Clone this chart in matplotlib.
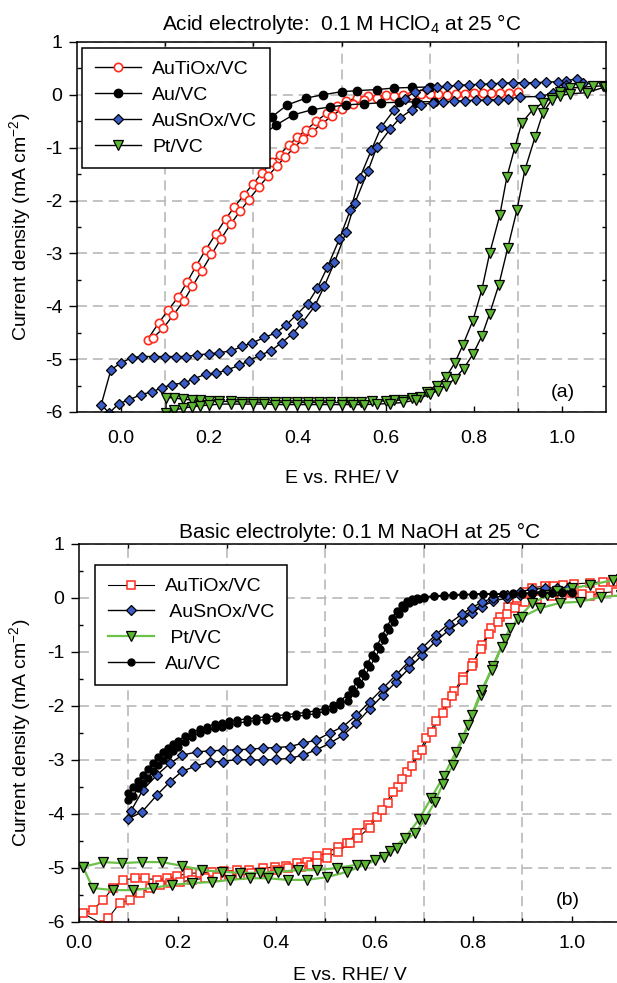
import matplotlib
matplotlib.use("Agg")
import matplotlib.pyplot as plt
from matplotlib.ticker import FixedLocator, MultipleLocator

plt.rcParams['font.family'] = ['Liberation Sans', 'DejaVu Sans']
plt.rcParams['mathtext.fontset'] = 'custom'
plt.rcParams['mathtext.rm'] = 'Liberation Sans'
plt.rcParams['mathtext.it'] = 'Liberation Sans:italic'
plt.rcParams['axes.unicode_minus'] = False

# ---------------- (a) acid, 0.1 M HClO4 ----------------
a_tio_x1 = [0.060, 0.085, 0.107, 0.130, 0.150, 0.170, 0.192, 0.215, 0.237, 0.257, 0.278, 0.300, 0.320, 0.343, 0.360,
            0.380, 0.400, 0.420, 0.443, 0.466, 0.490, 0.510, 0.535, 0.560, 0.600, 0.640, 0.680, 0.720, 0.760, 0.800,
            0.840, 0.880]
a_tio_y1 = [-4.63, -4.32, -4.07, -3.82, -3.54, -3.24, -2.93, -2.63, -2.35, -2.12, -1.90, -1.68, -1.47, -1.27, -1.13,
            -0.95, -0.80, -0.66, -0.50, -0.35, -0.21, -0.12, -0.06, -0.03, -0.01, 0.00, 0.01, 0.02, 0.02, 0.03,
            0.03, 0.04]
a_tio_x2 = [0.072, 0.095, 0.118, 0.142, 0.162, 0.183, 0.205, 0.227, 0.249, 0.270, 0.290, 0.312, 0.333, 0.353, 0.372,
            0.392, 0.412, 0.433, 0.455, 0.478, 0.500, 0.525, 0.550, 0.580, 0.620, 0.660, 0.700, 0.740, 0.780, 0.820,
            0.860, 0.900]
a_tio_y2 = [-4.60, -4.42, -4.17, -3.90, -3.62, -3.33, -3.02, -2.72, -2.44, -2.20, -1.98, -1.75, -1.54, -1.35, -1.18,
            -1.00, -0.84, -0.70, -0.55, -0.40, -0.27, -0.17, -0.10, -0.05, -0.02, 0.00, 0.01, 0.00, 0.02, 0.03,
            0.04, 0.06]

a_au_x1 = [0.220, 0.260, 0.300, 0.343, 0.377, 0.420, 0.457, 0.500, 0.536, 0.580, 0.620, 0.660, 0.700]
a_au_y1 = [-0.90, -0.78, -0.62, -0.41, -0.19, -0.06, 0.00, 0.06, 0.08, 0.10, 0.13, 0.14, 0.15]
a_au_x2 = [0.220, 0.260, 0.310, 0.352, 0.390, 0.434, 0.473, 0.510, 0.550, 0.590, 0.630, 0.670, 0.710]
a_au_y2 = [-1.15, -1.00, -0.82, -0.57, -0.38, -0.28, -0.23, -0.19, -0.17, -0.15, -0.14, -0.13, -0.13]

a_sn_x1 = [-0.023, 0.000, 0.025, 0.048, 0.075, 0.100, 0.125, 0.148, 0.173, 0.200, 0.223, 0.250, 0.275, 0.298, 0.325,
           0.352, 0.375, 0.398, 0.423, 0.445, 0.468, 0.495, 0.520, 0.541, 0.568, 0.590, 0.620, 0.643, 0.666, 0.693,
           0.716, 0.740, 0.765, 0.790, 0.815, 0.840, 0.865, 0.890, 0.915, 0.940, 0.965, 0.990, 1.010, 1.034]
a_sn_y1 = [-5.20, -5.07, -4.97, -4.95, -4.95, -4.95, -4.95, -4.95, -4.92, -4.90, -4.88, -4.84, -4.76, -4.69, -4.59,
           -4.50, -4.35, -4.16, -3.95, -3.66, -3.26, -2.73, -2.18, -1.58, -1.04, -0.61, -0.28, -0.08, 0.06, 0.11,
           0.15, 0.16, 0.18, 0.19, 0.20, 0.21, 0.22, 0.23, 0.23, 0.23, 0.24, 0.25, 0.27, 0.30]
a_sn_x2 = [-0.045, -0.027, -0.005, 0.018, 0.045, 0.070, 0.093, 0.116, 0.143, 0.166, 0.193, 0.216, 0.241, 0.268, 0.290,
           0.314, 0.340, 0.364, 0.389, 0.411, 0.439, 0.461, 0.484, 0.510, 0.530, 0.560, 0.580, 0.610, 0.632, 0.660,
           0.680, 0.707, 0.730, 0.755, 0.780, 0.805, 0.830, 0.855, 0.877, 0.905, 0.950, 0.980, 1.010, 1.048]
a_sn_y2 = [-5.86, -6.02, -5.84, -5.77, -5.67, -5.62, -5.54, -5.48, -5.45, -5.37, -5.28, -5.27, -5.20, -5.12, -5.03,
           -4.93, -4.84, -4.69, -4.52, -4.31, -4.00, -3.62, -3.17, -2.60, -2.05, -1.44, -0.99, -0.65, -0.44, -0.28,
           -0.19, -0.15, -0.13, -0.12, -0.11, -0.10, -0.10, -0.09, -0.08, -0.04, -0.03, 0.03, 0.19, 0.22]

a_pt_x1 = [0.102, 0.120, 0.140, 0.160, 0.180, 0.200, 0.223, 0.250, 0.275, 0.300, 0.325, 0.350, 0.375, 0.400, 0.425,
           0.450, 0.475, 0.500, 0.520, 0.545, 0.570, 0.600, 0.620, 0.640, 0.660, 0.677, 0.695, 0.716, 0.738, 0.757,
           0.775, 0.798, 0.818, 0.836, 0.859, 0.875, 0.893, 0.909, 0.934, 0.957, 0.977, 0.995, 1.018, 1.040, 1.070,
           1.093]
a_pt_y1 = [-5.73, -5.73, -5.76, -5.77, -5.78, -5.79, -5.80, -5.80, -5.81, -5.81, -5.82, -5.82, -5.82, -5.82, -5.82,
           -5.82, -5.82, -5.82, -5.82, -5.81, -5.80, -5.79, -5.78, -5.77, -5.74, -5.71, -5.63, -5.50, -5.33, -5.07,
           -4.74, -4.27, -3.70, -3.00, -2.28, -1.56, -1.00, -0.53, -0.28, -0.15, -0.06, 0.06, 0.13, 0.14, 0.16,
           0.17]
a_pt_x2 = [0.102, 0.120, 0.140, 0.160, 0.180, 0.200, 0.223, 0.250, 0.275, 0.300, 0.325, 0.350, 0.375, 0.400, 0.425,
           0.450, 0.475, 0.500, 0.525, 0.550, 0.580, 0.610, 0.640, 0.670, 0.700, 0.718, 0.738, 0.757, 0.777, 0.798,
           0.818, 0.836, 0.857, 0.877, 0.898, 0.916, 0.939, 0.957, 0.977, 0.995, 1.018, 1.056, 1.098]
a_pt_y2 = [-6.02, -5.96, -5.93, -5.90, -5.88, -5.87, -5.85, -5.85, -5.85, -5.85, -5.85, -5.86, -5.86, -5.86, -5.86,
           -5.86, -5.86, -5.86, -5.86, -5.86, -5.85, -5.84, -5.82, -5.77, -5.66, -5.60, -5.50, -5.37, -5.18, -4.91,
           -4.57, -4.14, -3.59, -2.90, -2.18, -1.42, -0.80, -0.34, -0.09, -0.02, 0.02, 0.04, 0.15]

# ---------------- (b) basic, 0.1 M NaOH ----------------
b_tio_x1 = [0.008, 0.028, 0.049, 0.069, 0.090, 0.114, 0.134, 0.158, 0.178, 0.199, 0.221, 0.245, 0.270, 0.295, 0.320,
            0.345, 0.373, 0.398, 0.420, 0.442, 0.462, 0.483, 0.503, 0.525, 0.544, 0.564, 0.586, 0.604, 0.627, 0.647,
            0.665, 0.686, 0.705, 0.725, 0.745, 0.762, 0.779, 0.800, 0.817, 0.837, 0.854, 0.870, 0.888, 0.905, 0.920,
            0.945, 0.965, 0.982, 1.005, 1.037, 1.063, 1.083]
b_tio_y1 = [-5.84, -5.78, -5.59, -5.37, -5.22, -5.19, -5.19, -5.22, -5.19, -5.15, -5.10, -5.09, -5.07, -5.06, -5.04,
            -5.03, -5.00, -4.98, -4.96, -4.91, -4.89, -4.78, -4.72, -4.61, -4.54, -4.35, -4.20, -4.05, -3.80, -3.50,
            -3.22, -2.91, -2.60, -2.27, -1.95, -1.72, -1.46, -1.20, -0.87, -0.56, -0.35, -0.17, 0.00, 0.11, 0.19,
            0.22, 0.23, 0.24, 0.26, 0.28, 0.30, 0.30]
b_tio_x2 = [0.050, 0.059, 0.083, 0.103, 0.124, 0.144, 0.164, 0.185, 0.205, 0.230, 0.255, 0.280, 0.305, 0.327, 0.350,
            0.375, 0.402, 0.425, 0.450, 0.470, 0.483, 0.503, 0.525, 0.550, 0.566, 0.590, 0.614, 0.637, 0.656, 0.675,
            0.696, 0.716, 0.738, 0.758, 0.779, 0.797, 0.815, 0.833, 0.850, 0.868, 0.885, 0.905, 0.930, 0.960, 0.980,
            1.000, 1.020, 1.037, 1.057, 1.090]
b_tio_y2 = [-6.05, -5.93, -5.65, -5.59, -5.46, -5.37, -5.31, -5.28, -5.26, -5.22, -5.19, -5.16, -5.13, -5.13, -5.10,
            -5.08, -5.04, -5.00, -4.98, -4.94, -4.91, -4.81, -4.70, -4.54, -4.44, -4.25, -3.93, -3.59, -3.35, -3.12,
            -2.81, -2.48, -2.13, -1.82, -1.52, -1.25, -0.95, -0.66, -0.45, -0.30, -0.18, -0.08, -0.01, 0.03, 0.06,
            0.09, 0.08, 0.04, 0.09, 0.12]

b_sn_x1 = [0.100, 0.128, 0.158, 0.185, 0.209, 0.235, 0.266, 0.292, 0.320, 0.347, 0.374, 0.400, 0.428, 0.454, 0.482,
           0.509, 0.536, 0.563, 0.590, 0.617, 0.644, 0.670, 0.697, 0.724, 0.750, 0.777, 0.797, 0.817, 0.840, 0.868,
           0.895, 0.920, 0.945, 0.970, 0.995]
b_sn_y1 = [-4.09, -3.96, -3.65, -3.40, -3.21, -3.12, -3.03, -3.03, -2.99, -3.00, -3.00, -2.99, -2.97, -2.91, -2.81,
           -2.69, -2.54, -2.32, -2.05, -1.80, -1.55, -1.30, -1.05, -0.80, -0.60, -0.42, -0.28, -0.16, -0.06, 0.00,
           0.06, 0.10, 0.13, 0.15, 0.17]
b_sn_x2 = [0.105, 0.130, 0.158, 0.185, 0.210, 0.239, 0.266, 0.292, 0.320, 0.347, 0.374, 0.400, 0.428, 0.454, 0.482,
           0.509, 0.536, 0.563, 0.590, 0.617, 0.644, 0.670, 0.697, 0.724, 0.750, 0.777, 0.797, 0.817, 0.840, 0.868,
           0.895, 0.920, 0.945, 0.970, 0.995]
b_sn_y2 = [-3.95, -3.55, -3.28, -3.06, -2.91, -2.85, -2.83, -2.82, -2.81, -2.80, -2.78, -2.77, -2.75, -2.69, -2.63,
           -2.50, -2.38, -2.17, -1.92, -1.67, -1.42, -1.17, -0.92, -0.68, -0.48, -0.30, -0.18, -0.08, 0.00, 0.06,
           0.12, 0.16, 0.18, 0.19, 0.20]

b_pt_x1 = [0.008, 0.049, 0.087, 0.128, 0.168, 0.209, 0.250, 0.290, 0.327, 0.367, 0.404, 0.444, 0.483, 0.523, 0.564,
           0.600, 0.632, 0.661, 0.690, 0.715, 0.740, 0.765, 0.790, 0.815, 0.840, 0.865, 0.890, 0.920, 0.950, 0.970,
           1.000, 1.037, 1.083, 1.100]
b_pt_y1 = [-4.98, -4.89, -4.91, -4.89, -4.89, -4.96, -5.04, -5.07, -5.09, -5.09, -5.07, -5.04, -5.04, -5.00, -4.94,
           -4.85, -4.68, -4.45, -4.10, -3.70, -3.30, -2.85, -2.35, -1.80, -1.25, -0.75, -0.38, -0.10, 0.05, 0.13,
           0.18, 0.24, 0.33, 0.35]
b_pt_x2 = [0.008, 0.028, 0.069, 0.110, 0.150, 0.189, 0.229, 0.270, 0.306, 0.347, 0.383, 0.424, 0.462, 0.503, 0.544,
           0.580, 0.620, 0.645, 0.682, 0.702, 0.722, 0.738, 0.759, 0.779, 0.797, 0.817, 0.838, 0.858, 0.874, 0.900,
           0.935, 0.976, 1.016, 1.060, 1.100]
b_pt_y2 = [-4.98, -5.37, -5.41, -5.41, -5.37, -5.31, -5.28, -5.26, -5.22, -5.19, -5.19, -5.22, -5.22, -5.17, -5.07,
           -4.94, -4.79, -4.63, -4.35, -4.10, -3.78, -3.45, -3.09, -2.59, -2.17, -1.70, -1.33, -0.90, -0.56, -0.35,
           -0.19, -0.09, -0.07, 0.02, 0.05]

b_au_x1 = [0.100, 0.110, 0.120, 0.130, 0.140, 0.150, 0.160, 0.170, 0.180, 0.190, 0.200, 0.215, 0.230, 0.245, 0.260,
           0.275, 0.290, 0.305, 0.320, 0.340, 0.360, 0.380, 0.400, 0.420, 0.440, 0.460, 0.480, 0.500, 0.515, 0.530,
           0.545, 0.560, 0.570, 0.580, 0.590, 0.600, 0.610, 0.620, 0.630, 0.640, 0.650, 0.660, 0.670, 0.680, 0.690,
           0.700, 0.720, 0.740, 0.760, 0.780, 0.800, 0.820, 0.840, 0.860, 0.880, 0.900, 0.920, 0.940, 0.960, 0.980,
           1.000]
b_au_y1 = [-3.74, -3.66, -3.52, -3.42, -3.33, -3.20, -3.09, -3.00, -2.91, -2.83, -2.76, -2.66, -2.57, -2.50, -2.45,
           -2.41, -2.38, -2.35, -2.32, -2.29, -2.27, -2.25, -2.23, -2.21, -2.19, -2.17, -2.14, -2.10, -2.05, -1.99,
           -1.90, -1.75, -1.60, -1.45, -1.28, -1.12, -0.95, -0.77, -0.60, -0.44, -0.30, -0.18, -0.10, -0.05, -0.02,
           0.00, 0.03, 0.04, 0.05, 0.06, 0.06, 0.07, 0.07, 0.07, 0.08, 0.08, 0.08, 0.09, 0.09, 0.10,
           0.10]
b_au_x2 = [0.100, 0.110, 0.120, 0.130, 0.140, 0.150, 0.160, 0.170, 0.180, 0.190, 0.200, 0.215, 0.230, 0.245, 0.260,
           0.275, 0.290, 0.305, 0.320, 0.340, 0.360, 0.380, 0.400, 0.420, 0.440, 0.460, 0.480, 0.500, 0.515, 0.530,
           0.545, 0.555, 0.565, 0.575, 0.585, 0.595, 0.605, 0.615, 0.625, 0.635, 0.645, 0.655, 0.665, 0.675, 0.685,
           0.700, 0.720, 0.740, 0.760, 0.780, 0.800, 0.820, 0.840, 0.860, 0.880, 0.900, 0.920, 0.940, 0.960, 0.980,
           1.000]
b_au_y2 = [-3.62, -3.50, -3.38, -3.27, -3.16, -3.05, -2.95, -2.86, -2.78, -2.71, -2.65, -2.56, -2.49, -2.43, -2.38,
           -2.34, -2.31, -2.28, -2.26, -2.24, -2.22, -2.20, -2.18, -2.16, -2.14, -2.12, -2.09, -2.04, -1.98, -1.90,
           -1.80, -1.68, -1.54, -1.38, -1.22, -1.05, -0.88, -0.70, -0.53, -0.37, -0.24, -0.13, -0.06, -0.02, 0.00,
           0.02, 0.04, 0.05, 0.06, 0.07, 0.07, 0.08, 0.08, 0.08, 0.09, 0.09, 0.09, 0.10, 0.10, 0.11,
           0.11]

x_ticks = [0.0, 0.2, 0.4, 0.6, 0.8, 1.0]
x_grid = [0.1, 0.3, 0.5, 0.7, 0.9]

RED = '#ff2b1c'
BLUE = '#3a5cc8'
GREEN = '#5cb833'
LINE_GREEN = '#6cc24a'
GRID = '#b9b9b9'
FS = 14
TITLE_FS = 15


def loop(x1, y1, x2, y2):
    # join the two sweeps of one voltammogram into one path
    return x1[::-1] + x2, y1[::-1] + y2


def style_axes(ax, xmin, xpad):
    ax.set_xlim(xmin, 1.1)
    ax.set_ylim(-6, 1)
    ax.xaxis.set_major_locator(FixedLocator(x_ticks))
    ax.xaxis.set_minor_locator(FixedLocator(x_grid))
    ax.yaxis.set_major_locator(MultipleLocator(1))
    ax.yaxis.set_minor_locator(MultipleLocator(0.5))
    ax.set_xticklabels(['0.0', '0.2', '0.4', '0.6', '0.8', '1.0'])
    ax.tick_params(axis='y', which='major', direction='out', length=5.5, width=1, labelsize=FS, pad=5)
    ax.tick_params(axis='x', which='major', direction='in', length=4, width=1, labelsize=FS, pad=xpad)
    ax.tick_params(which='minor', direction='in', length=3, width=1, top=True, right=True)
    ax.grid(which='minor', axis='x', color=GRID, lw=1.2, ls=(0, (6, 3.5)))
    ax.grid(which='major', axis='y', color=GRID, lw=1.2, ls=(0, (6, 3.5)))
    ax.set_axisbelow(True)
    for s in ax.spines.values():
        s.set_linewidth(1.1)


def add_legend(ax, anchor):
    leg = ax.legend(loc='upper left', bbox_to_anchor=anchor, borderaxespad=0, fontsize=FS,
                    frameon=True, fancybox=False, edgecolor='black', framealpha=1, handlelength=2.4,
                    handletextpad=0.55, labelspacing=0.42, borderpad=0.65)
    leg.get_frame().set_linewidth(1.1)


fig = plt.figure(figsize=(6.17, 9.83), dpi=100)
ax1 = fig.add_axes([77 / 617, 1 - 412 / 983, 529 / 617, 370 / 983])
ax2 = fig.add_axes([79 / 617, 1 - 922 / 983, 542 / 617, 378 / 983])

# ---- panel (a)
x, y = loop(a_tio_x1, a_tio_y1, a_tio_x2, a_tio_y2)
ax1.plot(x, y, color='black', lw=1, marker='o', ms=6, mfc='white', mec=RED, mew=1.2, label='AuTiOx/VC')
x, y = loop(a_au_x1, a_au_y1, a_au_x2, a_au_y2)
ax1.plot(x, y, color='black', lw=1, marker='o', ms=6, mfc='black', mec='black', label='Au/VC')
x, y = loop(a_sn_x1, a_sn_y1, a_sn_x2, a_sn_y2)
ax1.plot(x, y, color='black', lw=1, marker='D', ms=5.5, mfc=BLUE, mec='black', mew=0.9, label='AuSnOx/VC')
x, y = loop(a_pt_x1, a_pt_y1, a_pt_x2, a_pt_y2)
ax1.plot(x, y, color='black', lw=1, marker='v', ms=6.5, mfc=GREEN, mec='black', mew=0.9, label='Pt/VC')

style_axes(ax1, -0.1, 13)
add_legend(ax1, (0.0095, 0.984))
ax1.text(0.5, 1.032, 'Acid electrolyte:  0.1 M HClO$_4$ at 25 °C', transform=ax1.transAxes,
         ha='center', va='baseline', fontsize=TITLE_FS)
ax1.text(0.919, 0.054, '(a)', transform=ax1.transAxes, ha='center', va='center', fontsize=FS)
ax1.set_xlabel('E vs. RHE/ V', fontsize=FS)
ax1.set_ylabel('Current density (mA cm$^{-2}$)', fontsize=FS)
ax1.xaxis.set_label_coords(0.5, -0.157)
ax1.yaxis.set_label_coords(-0.084, 0.5)

# ---- panel (b)
x, y = loop(b_tio_x1, b_tio_y1, b_tio_x2, b_tio_y2)
ax2.plot(x, y, color='black', lw=0.8, marker='s', ms=6.3, mfc='white', mec=RED, mew=1.1, label='AuTiOx/VC')
x, y = loop(b_sn_x1, b_sn_y1, b_sn_x2, b_sn_y2)
ax2.plot(x, y, color='black', lw=1, marker='D', ms=5.5, mfc=BLUE, mec='black', mew=0.9, label=' AuSnOx/VC')
x, y = loop(b_pt_x1, b_pt_y1, b_pt_x2, b_pt_y2)
ax2.plot(x, y, color=LINE_GREEN, lw=1.6, marker='v', ms=6.5, mfc=GREEN, mec='black', mew=0.9, label=' Pt/VC')
x, y = loop(b_au_x1, b_au_y1, b_au_x2, b_au_y2)
ax2.plot(x, y, color='black', lw=1, marker='o', ms=5, mfc='black', mec='black', label='Au/VC')

style_axes(ax2, 0.0, 9.5)
add_legend(ax2, (0.0295, 0.944))
ax2.text(0.518, 1.016, 'Basic electrolyte: 0.1 M NaOH at 25 °C', transform=ax2.transAxes,
         ha='center', va='baseline', fontsize=TITLE_FS)
ax2.text(0.902, 0.058, '(b)', transform=ax2.transAxes, ha='center', va='center', fontsize=FS)
ax2.set_xlabel('E vs. RHE/ V', fontsize=FS)
ax2.set_ylabel('Current density (mA cm$^{-2}$)', fontsize=FS)
ax2.xaxis.set_label_coords(0.5, -0.119)
ax2.yaxis.set_label_coords(-0.085, 0.5)

fig.savefig('out.png', dpi=100)
